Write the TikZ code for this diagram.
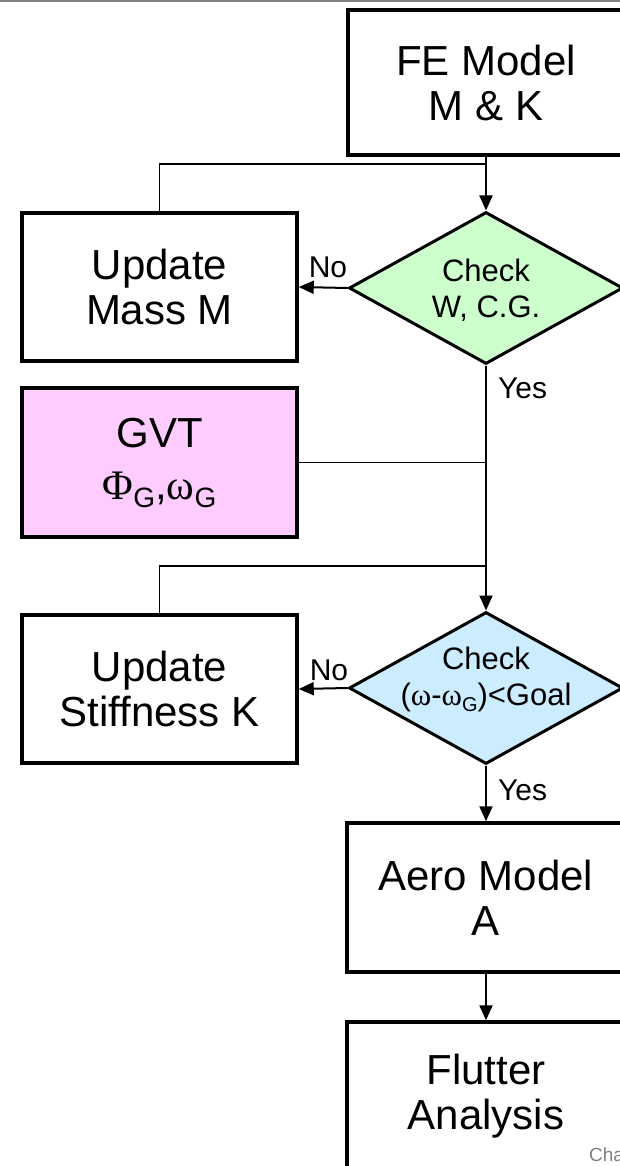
\documentclass[tikz,border=0pt]{standalone}
\usepackage{fontspec}
\setmainfont{Liberation Sans}
\newfontfamily\grk{Liberation Serif}
\usetikzlibrary{arrows.meta,shapes.geometric}

% lowered, smaller "G" used as a subscript in the text
\newcommand\gsub[2]{\raisebox{-#2pt}{\fontsize{#1}{#1}\selectfont G}}

\definecolor{chkgreen}{HTML}{CCFFCC}
\definecolor{chkblue}{HTML}{CCECFF}
\definecolor{gvtpink}{HTML}{FFCCFF}

\begin{document}
\begin{tikzpicture}[x=1pt,y=-1pt,
  box/.style={draw, line width=3.5pt, inner sep=0pt, minimum width=275pt,
    minimum height=148pt, align=center, font=\fontsize{42}{45}\selectfont},
  decision/.style={diamond, draw, line width=3pt, inner sep=0pt,
    minimum width=274pt, minimum height=152pt},
  dlabel/.style={align=center, inner sep=0pt, font=\fontsize{31}{36}\selectfont},
  branch/.style={inner sep=0pt, font=\fontsize{30}{30}\selectfont},
  flow/.style={line width=2pt, -{Triangle[length=15pt,width=13pt]}},
  loopback/.style={line width=1.4pt}
]
\useasboundingbox (0,0) rectangle (620,1166);
\clip (0,0) rectangle (620,1166);

% rule along the top edge
\draw[line width=2.5pt, gray] (0,1) -- (620,1);

% process boxes
\node[box, minimum width=276pt, minimum height=145pt] (fe) at (486,82.5) {FE Model\\M \& K};
\node[box] (mass) at (159.5,287) {Update\\Mass M};
\node[box, fill=gvtpink, minimum height=149pt] (gvt) at (159.5,462.5)
  {GVT\\[7pt]{\grk Φ}\gsub{28}{8},{\grk ω}\gsub{28}{8}};
\node[box] (stiff) at (159.5,689) {Update\\Stiffness K};
\node[box, minimum width=278pt, minimum height=149pt] (aero) at (486,897.5) {Aero Model\\A};
\node[box, minimum width=278pt] (flutter) at (486,1096) {Flutter\\Analysis};

% decisions
\node[decision, fill=chkgreen] (chk1) at (486,288) {};
\node[dlabel] (chk1txt) at (486,290) {Check\\W, C.G.};
\node[decision, fill=chkblue] (chk2) at (486,688) {};
\node[dlabel] (chk2txt) at (486,679) {Check\\({\grk ω}-{\grk ω}\gsub{20}{6})<Goal};

% junctions on the main line
\coordinate (j1) at (486,164);
\coordinate (j2) at (486,566);

% connectors
\draw[flow] (fe.south) -- (chk1.north);
\draw[loopback] (mass.north) |- (j1);
\draw[flow] (chk1.west) -- (mass.east);
\draw[flow] (chk1.south) -- (chk2.north);
\draw[loopback] (gvt.east) -- (gvt.east -| chk1.south);
\draw[loopback] (stiff.north) |- (j2);
\draw[flow] (chk2.west) -- (stiff.east);
\draw[flow] (chk2.south) -- (aero.north);
\draw[flow] (aero.south) -- (flutter.north);

% branch labels
\node[branch, anchor=base] (no1) at (328,277) {No};
\node[branch, anchor=base west] (yes1) at (498,398) {Yes};
\node[branch, anchor=base] (no2) at (329,680) {No};
\node[branch, anchor=base west] (yes2) at (498,800) {Yes};

% footer text
\node[inner sep=0pt, anchor=base west, text=gray, font=\fontsize{19}{19}\selectfont] (note) at (589,1161) {Cha};
\end{tikzpicture}
\end{document}
